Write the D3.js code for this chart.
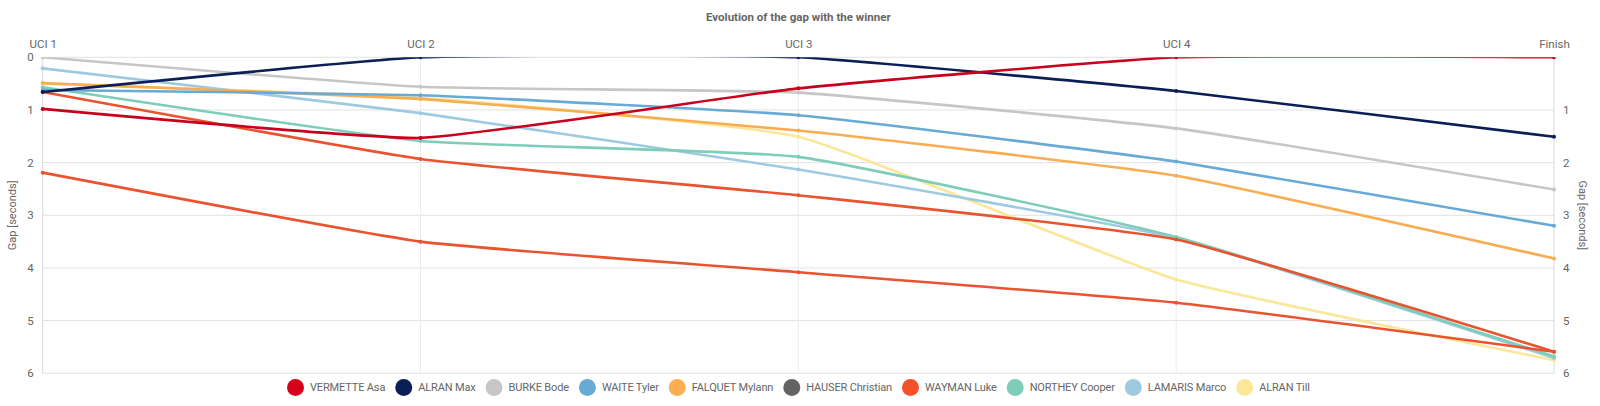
<!DOCTYPE html>
<html>
<head>
<meta charset="utf-8">
<script src="https://cdn.jsdelivr.net/npm/d3@7"></script>
<style>
  body { margin: 0; background: #fff; }
  svg { display: block; font-family: Roboto, "Liberation Sans", sans-serif; }
</style>
</head>
<body>
<div id="chart"></div>
<script>
// Checkpoints along the x axis
const checkpoints = ["UCI 1", "UCI 2", "UCI 3", "UCI 4", "Finish"];

// Riders in legend order
const riders = [
  "VERMETTE Asa", "ALRAN Max", "BURKE Bode", "WAITE Tyler", "FALQUET Mylann",
  "HAUSER Christian", "WAYMAN Luke", "NORTHEY Cooper", "LAMARIS Marco", "ALRAN Till"
];

// Gap to the winner in seconds at each checkpoint
const gapVermette = [0.98, 1.53, 0.59, 0, 0];
const gapAlranMax = [0.66, 0, 0, 0.64, 1.51];
const gapBurke = [0, 0.56, 0.67, 1.35, 2.51];
const gapWaite = [0.62, 0.72, 1.10, 1.98, 3.20];
const gapFalquet = [0.49, 0.79, 1.39, 2.25, 3.82];
const gapHauser = [2.19, 3.50, 4.08, 4.66, 5.59];
const gapWayman = [0.66, 1.93, 2.62, 3.46, 5.59];
const gapNorthey = [0.57, 1.59, 1.89, 3.41, 5.68];
const gapLamaris = [0.21, 1.06, 2.13, 3.43, 5.71];
const gapAlranTill = [0.50, 0.77, 1.51, 4.22, 5.75];

const gaps = [gapVermette, gapAlranMax, gapBurke, gapWaite, gapFalquet,
  gapHauser, gapWayman, gapNorthey, gapLamaris, gapAlranTill];

const legendColors = ["#d7001c", "#0b1f56", "#c6c6c6", "#67aad6", "#fcae50",
  "#636363", "#f5502a", "#7dcdb8", "#9ecae1", "#fde89a"];
const lineColors = ["#c8001e", "#0b1f56", "#c6c6c6", "#67aad6", "#f9ad52",
  "#e8542f", "#e8542f", "#7dcdb8", "#9ecae1", "#fbe79a"];

const yTicks = [0, 1, 2, 3, 4, 5, 6];
const yTicksRight = [1, 2, 3, 4, 5, 6];

const W = 1600, H = 406;
const margin = { top: 57.3, right: 46, bottom: 32.7, left: 42.7 };
const width = W - margin.left - margin.right;
const height = H - margin.top - margin.bottom;

const svg = d3.select("#chart").append("svg")
  .attr("width", W).attr("height", H);

const g = svg.append("g")
  .attr("transform", `translate(${margin.left},${margin.top})`);

const x = d3.scalePoint().domain(checkpoints).range([0, width]);
const y = d3.scaleLinear().domain([0, 6]).range([0, height]);

// Title
svg.append("text")
  .attr("x", margin.left + width / 2)
  .attr("y", 21)
  .attr("text-anchor", "middle")
  .attr("font-size", 11.5)
  .attr("font-weight", "bold")
  .attr("fill", "#666")
  .text("Evolution of the gap with the winner");

// Grid lines
g.append("g").selectAll("line.h")
  .data(yTicks).join("line")
  .attr("x1", 0).attr("x2", width)
  .attr("y1", d => y(d)).attr("y2", d => y(d))
  .attr("stroke", "#e2e2e2").attr("stroke-width", 1);

g.append("g").selectAll("line.v")
  .data(checkpoints).join("line")
  .attr("x1", d => x(d)).attr("x2", d => x(d))
  .attr("y1", 0).attr("y2", height)
  .attr("stroke", d => (d === checkpoints[0] || d === checkpoints[4]) ? "#dadada" : "#ececec")
  .attr("stroke-width", 1);

// Top x axis labels
const xAxis = g.append("g")
  .call(d3.axisTop(x).tickSize(0).tickPadding(9));
xAxis.select(".domain").remove();
xAxis.selectAll("text").attr("font-size", 11.5).attr("fill", "#666")
  .attr("font-family", "Roboto, sans-serif");

// Left and right y axes
const yLeft = g.append("g")
  .call(d3.axisLeft(y).tickValues(yTicks).tickFormat(d3.format("d")).tickSize(0).tickPadding(9));
const yRight = g.append("g")
  .attr("transform", `translate(${width},0)`)
  .call(d3.axisRight(y).tickValues(yTicksRight).tickFormat(d3.format("d")).tickSize(0).tickPadding(9));
[yLeft, yRight].forEach(a => {
  a.select(".domain").remove();
  a.selectAll("text").attr("font-size", 11.5).attr("fill", "#666")
    .attr("font-family", "Roboto, sans-serif");
});

svg.append("text")
  .attr("transform", `translate(12,${margin.top + height / 2}) rotate(-90)`)
  .attr("text-anchor", "middle").attr("dy", "0.35em")
  .attr("font-size", 11).attr("fill", "#666")
  .text("Gap [seconds]");
svg.append("text")
  .attr("transform", `translate(1583,${margin.top + height / 2}) rotate(90)`)
  .attr("text-anchor", "middle").attr("dy", "0.35em")
  .attr("font-size", 11).attr("fill", "#666")
  .text("Gap [seconds]");

// Clip lines to the plot area
svg.append("defs").append("clipPath").attr("id", "plotClip")
  .append("rect").attr("x", -3).attr("y", 0).attr("width", width + 6).attr("height", height + 3);

const line = d3.line()
  .x((d, i) => x(checkpoints[i]))
  .y(d => y(d))
  .curve(d3.curveCardinal.tension(0.6));

const lines = g.append("g").attr("clip-path", "url(#plotClip)");

// Draw in reverse so the first rider ends up on top
for (let k = riders.length - 1; k >= 0; k--) {
  const values = gaps[k];
  lines.append("path")
    .datum(values)
    .attr("fill", "none")
    .attr("stroke", lineColors[k])
    .attr("stroke-width", 2.6)
    .attr("stroke-linejoin", "round")
    .attr("d", line);

  lines.selectAll(null)
    .data(values).join("circle")
    .attr("cx", (d, i) => x(checkpoints[i]))
    .attr("cy", d => y(d))
    .attr("r", 2)
    .attr("fill", lineColors[k]);
}

// Legend
const legend = svg.append("g");
let cursor = 0;
riders.forEach((name, i) => {
  const item = legend.append("g").attr("transform", `translate(${cursor},0)`);
  item.append("circle").attr("cx", 8.5).attr("cy", 0).attr("r", 8.5)
    .attr("fill", legendColors[i]);
  const t = item.append("text").attr("x", 23).attr("y", 0).attr("dy", "0.35em")
    .attr("font-size", 11).attr("letter-spacing", -0.15)
    .attr("fill", "#666").text(name);
  cursor += 23 + t.node().getComputedTextLength() + 10;
});
cursor -= 10;
legend.attr("transform", `translate(${margin.left + width / 2 - cursor / 2},387.5)`);
</script>
</body>
</html>
